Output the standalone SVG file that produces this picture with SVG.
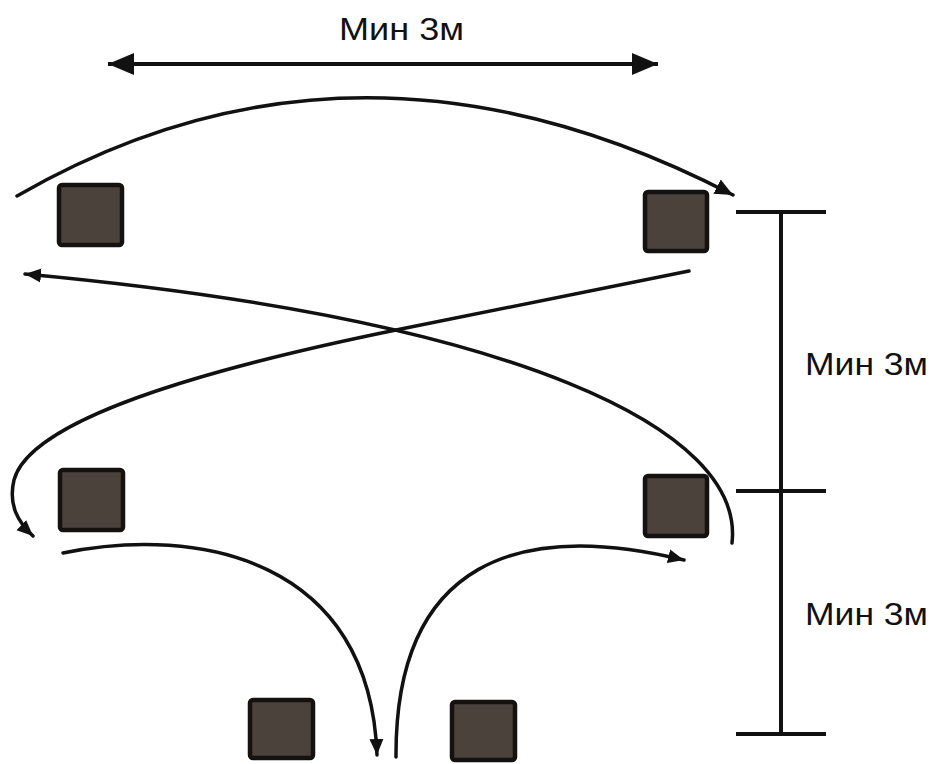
<svg xmlns="http://www.w3.org/2000/svg" width="937" height="764" viewBox="0 0 937 764">
<style>
.cone{fill:#4b423c;stroke:#141210;stroke-width:4.5}
.c{fill:none;stroke:#111;stroke-width:3.5;stroke-linecap:round}
.dim{fill:none;stroke:#111;stroke-width:4}
.lbl{font-family:"Liberation Sans",Arial,sans-serif;font-size:32px;fill:#111}
</style>
<defs>
<marker id="ah" markerUnits="userSpaceOnUse" markerWidth="20" markerHeight="18" refX="18" refY="9" orient="auto"><path d="M0,1 L18,9 L0,17 Z" fill="#111"/></marker>
<marker id="ahs" markerUnits="userSpaceOnUse" markerWidth="18" markerHeight="16" refX="16" refY="8" orient="auto"><path d="M0,1 L16,8 L0,15 Z" fill="#111"/></marker>
<marker id="big" markerUnits="userSpaceOnUse" markerWidth="28" markerHeight="26" refX="26" refY="13" orient="auto-start-reverse"><path d="M0,2 L26,13 L0,24 Z" fill="#111"/></marker>
</defs>
<rect width="937" height="764" fill="#fff"/>
<g id="cone-tl"><rect class="cone" x="59" y="185" width="63" height="60" rx="3"/></g>
<g id="cone-tr"><rect class="cone" x="645" y="192" width="62" height="59" rx="3"/></g>
<g id="cone-ml"><rect class="cone" x="60" y="470" width="63" height="60" rx="3"/></g>
<g id="cone-mr"><rect class="cone" x="645" y="476" width="62" height="60" rx="3"/></g>
<g id="cone-bl"><rect class="cone" x="250" y="700" width="63" height="58" rx="3"/></g>
<g id="cone-br"><rect class="cone" x="452" y="702" width="63" height="58" rx="3"/></g>
<g id="connectors">
<path class="c" d="M17,196 Q357,0 733,195" marker-end="url(#ah)"/>
<path class="c" d="M732,543 C745,430 520,320 25,274" marker-end="url(#ahs)"/>
<path class="c" d="M689,271 L396,330 C200,370 30,420 14,480 C8,505 18,522 33,536" marker-end="url(#ahs)"/>
<path class="c" d="M63,553 C200,525 370,560 377,755" marker-end="url(#ahs)"/>
<path class="c" d="M396,757 C395,560 520,520 684,560" marker-end="url(#ahs)"/>
</g>
<g id="dimensions">
<path class="dim" d="M108,64 L658,64" stroke-width="5" marker-start="url(#big)" marker-end="url(#big)"/>
<path class="dim" d="M781,212 L781,735 M736,212 L826,212 M736,491 L826,491 M736,734 L826,734"/>
</g>
<g id="labels">
<text class="lbl" x="339" y="40" textLength="125" lengthAdjust="spacingAndGlyphs">Мин 3м</text>
<text class="lbl" x="805" y="375" textLength="123" lengthAdjust="spacingAndGlyphs">Мин 3м</text>
<text class="lbl" x="805" y="625" textLength="123" lengthAdjust="spacingAndGlyphs">Мин 3м</text>
</g>
</svg>
